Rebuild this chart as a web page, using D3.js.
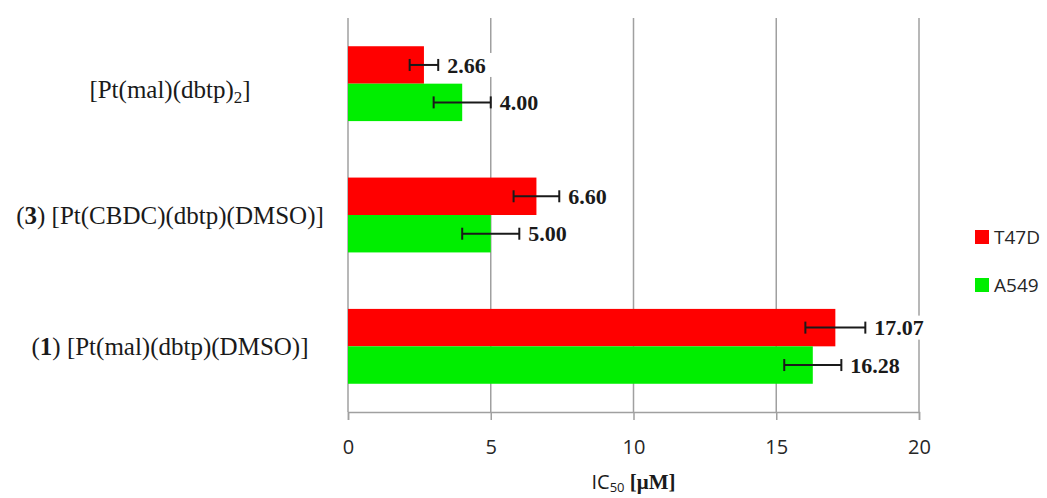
<!DOCTYPE html>
<html>
<head>
<meta charset="utf-8">
<script src="https://cdn.jsdelivr.net/npm/d3@7"></script>
<style>
  body { margin: 0; background: #fff; }
</style>
</head>
<body>
<div id="chart"></div>
<script>
// data
var categories = ["[Pt(mal)(dbtp)2]", "(3) [Pt(CBDC)(dbtp)(DMSO)]", "(1) [Pt(mal)(dbtp)(DMSO)]"]
var seriesNames = ["T47D", "A549"]
var t47dValues = [2.66, 6.60, 17.07]
var a549Values = [4.00, 5.00, 16.28]
var t47dErrors = [0.5, 0.8, 1.05]
var a549Errors = [1.0, 1.0, 1.0]
var xTicks = [0, 5, 10, 15, 20]

var colors = { T47D: "#ff0000", A549: "#00ee00" }

var width = 1047
var height = 498
var margin = { top: 18, left: 348, right: 128, bottom: 86 }

var svg = d3.select("#chart").append("svg")
  .attr("width", width)
  .attr("height", height)

var x = d3.scaleLinear()
  .domain([0, 20])
  .range([margin.left, width - margin.right])

var y = d3.scaleBand()
  .domain(categories)
  .range([margin.top, height - margin.bottom])
  .paddingInner(0.43)
  .paddingOuter(0.215)

var ySub = d3.scaleBand()
  .domain(seriesNames)
  .range([0, y.bandwidth()])

// rows: one per bar
var rows = []
categories.forEach(function(c, i) {
  rows.push({ cat: c, series: "T47D", value: t47dValues[i], err: t47dErrors[i] })
  rows.push({ cat: c, series: "A549", value: a549Values[i], err: a549Errors[i] })
})

var axisY = height - margin.bottom

// gridlines
svg.append("g")
  .selectAll("line")
  .data(xTicks)
  .enter().append("line")
  .attr("x1", function(d) { return x(d) })
  .attr("x2", function(d) { return x(d) })
  .attr("y1", margin.top)
  .attr("y2", axisY)
  .attr("stroke", "#a0a0a0")
  .attr("stroke-width", 1.5)

// bars
svg.append("g")
  .selectAll("rect")
  .data(rows)
  .enter().append("rect")
  .attr("x", x(0))
  .attr("y", function(d) { return y(d.cat) + ySub(d.series) })
  .attr("width", function(d) { return x(d.value) - x(0) })
  .attr("height", ySub.bandwidth())
  .attr("fill", function(d) { return colors[d.series] })

// error bars
var errG = svg.append("g")
  .selectAll("g")
  .data(rows)
  .enter().append("g")
  .attr("stroke", "#1a1a1a")
  .attr("stroke-width", 2)

errG.append("line")
  .attr("x1", function(d) { return x(d.value - d.err) })
  .attr("x2", function(d) { return x(d.value + d.err) })
  .attr("y1", function(d) { return y(d.cat) + ySub(d.series) + ySub.bandwidth() / 2 })
  .attr("y2", function(d) { return y(d.cat) + ySub(d.series) + ySub.bandwidth() / 2 })

errG.selectAll("line.cap")
  .data(function(d) { return [d.value - d.err, d.value + d.err].map(function(v) { return { v: v, row: d } }) })
  .enter().append("line")
  .attr("class", "cap")
  .attr("x1", function(d) { return x(d.v) })
  .attr("x2", function(d) { return x(d.v) })
  .attr("y1", function(d) { return y(d.row.cat) + ySub(d.row.series) + ySub.bandwidth() / 2 - 6 })
  .attr("y2", function(d) { return y(d.row.cat) + ySub(d.row.series) + ySub.bandwidth() / 2 + 6 })

// value labels with white backing
var labelG = svg.append("g")
  .selectAll("g")
  .data(rows)
  .enter().append("g")
  .attr("transform", function(d) {
    return "translate(" + (x(d.value + d.err) + 9) + "," + (y(d.cat) + ySub(d.series) + ySub.bandwidth() / 2) + ")"
  })

labelG.append("rect")
  .attr("x", -2)
  .attr("y", -12)
  .attr("width", 56)
  .attr("height", 24)
  .attr("fill", "#fff")

labelG.append("text")
  .attr("dy", "0.35em")
  .style("font-family", "'Liberation Serif', serif")
  .style("font-weight", "bold")
  .style("font-size", "22px")
  .style("fill", "#1a1a1a")
  .text(function(d) { return d.value.toFixed(2) })

// x axis
var xAxis = d3.axisBottom(x)
  .tickValues(xTicks)
  .tickSize(8)
  .tickPadding(20)

var axisG = svg.append("g")
  .attr("transform", "translate(0," + axisY + ")")
  .call(xAxis)

axisG.select(".domain").attr("stroke", "#a0a0a0").attr("stroke-width", 1.5)
axisG.selectAll(".tick line").attr("stroke", "#a0a0a0").attr("stroke-width", 1.5)
axisG.selectAll(".tick text")
  .style("font-family", "'Open Sans', sans-serif")
  .style("font-size", "20px")
  .style("fill", "#262626")

// axis title
var title = svg.append("text")
  .attr("x", x(10))
  .attr("y", 489)
  .attr("text-anchor", "middle")
  .style("fill", "#1a1a1a")
  .style("font-weight", "bold")
title.append("tspan")
  .style("font-family", "'Open Sans', sans-serif")
  .style("font-size", "20px")
  .style("font-weight", "normal")
  .text("IC")
title.append("tspan")
  .style("font-family", "'Open Sans', sans-serif")
  .style("font-size", "13px")
  .style("font-weight", "normal")
  .attr("dy", 3)
  .text("50")
title.append("tspan")
  .style("font-family", "'Liberation Serif', serif")
  .style("font-size", "21px")
  .attr("dy", -3)
  .text(" [\u03bcM]")

// category labels: bold compound number, subscript trailing digit
var catText = svg.append("g")
  .selectAll("text")
  .data(categories)
  .enter().append("text")
  .attr("x", 170)
  .attr("y", function(d, i) { return y(d) + y.bandwidth() / 2 + (i === 0 ? 6 : 0) })
  .attr("dy", "0.35em")
  .attr("text-anchor", "middle")
  .style("font-family", "'Liberation Serif', serif")
  .style("font-size", "25px")
  .style("fill", "#1a1a1a")

catText.each(function(d) {
  var t = d3.select(this)
  var m = d.match(/^\((\d)\) (.*)$/)
  var rest = d
  if (m) {
    t.append("tspan").text("(")
    t.append("tspan").style("font-weight", "bold").text(m[1])
    t.append("tspan").text(") ")
    rest = m[2]
  }
  var s = rest.match(/^(.*\))(\d)(\])$/)
  if (s) {
    t.append("tspan").text(s[1])
    t.append("tspan").attr("dy", 5).style("font-size", "17px").text(s[2])
    t.append("tspan").attr("dy", -5).text(s[3])
  } else {
    t.append("tspan").text(rest)
  }
})

// legend
var legend = svg.append("g")
  .selectAll("g")
  .data(seriesNames)
  .enter().append("g")
  .attr("transform", function(d, i) { return "translate(975," + (230 + i * 48) + ")" })

legend.append("rect")
  .attr("width", 14)
  .attr("height", 14)
  .attr("fill", function(d) { return colors[d] })

legend.append("text")
  .attr("x", 19)
  .attr("y", 7)
  .attr("dy", "0.35em")
  .style("font-family", "'Open Sans', sans-serif")
  .style("font-size", "19px")
  .style("fill", "#262626")
  .text(function(d) { return d })
</script>
</body>
</html>
